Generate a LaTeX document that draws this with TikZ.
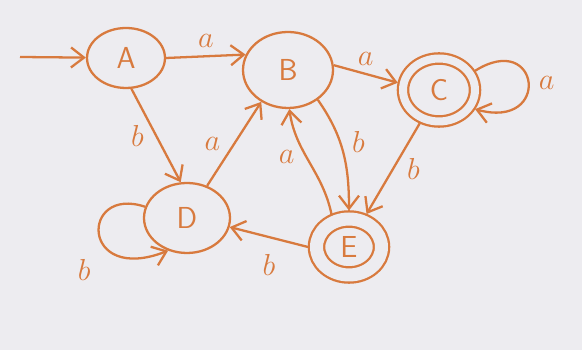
\documentclass[tikz,border=0pt]{standalone}
\usetikzlibrary{arrows.meta,shapes.geometric}
\definecolor{pen}{RGB}{216,122,62}
\definecolor{paper}{RGB}{237,236,240}
\tikzset{
  state/.style={draw=pen,ellipse,line width=1.3pt,text=pen,font=\LARGE\sffamily,inner sep=0pt},
  final/.style={state,double=paper},
  edge/.style={draw=pen,line width=1.3pt,-{Straight Barb[length=2.6mm,width=4mm]}},
  lbl/.style={text=pen,font=\LARGE}
}
\begin{document}
\begin{tikzpicture}[x=0.02cm,y=-0.02cm]
        \fill[paper] (0,0) rectangle (582,350);
        % states
        \node[state,minimum width=1.56cm,minimum height=1.2cm] (A) at (126,58) {A};
        \node[state,minimum width=1.8cm,minimum height=1.52cm] (B) at (288,70) {B};
        \node[final,double distance=0.16cm,minimum width=1.44cm,minimum height=1.26cm,outer sep=0.12cm] (C) at (439,90) {C};
        \node[state,minimum width=1.72cm,minimum height=1.4cm] (D) at (187,218) {D};
        \node[final,double distance=0.26cm,minimum width=1.3cm,minimum height=1.12cm,outer sep=0.17cm] (E) at (349,247) {E};
        \coordinate (start) at (20,57);
        % transitions
        \draw[edge] (start) -- (A);
        \draw[edge] (A.east) -- node[lbl,above=1pt] {$a$} (B.160);
        \draw[edge] (B.6) -- node[lbl,above=1pt] {$a$} (C.170);
        \draw[edge] (C.28) .. controls (540,30) and (552,130) .. node[lbl,right=2pt] {$a$} (C.-28);
        \draw[edge] (A.-80) -- node[lbl,left=3pt] {$b$} (D.100);
        \draw[edge] (D.58) -- node[lbl,left=4pt] {$a$} (B.-130);
        \draw[edge] (C.-120) -- node[lbl,right=4pt] {$b$} (E.62);
        \draw[edge] (B.-45) to[out=-55,in=90] node[lbl,right=3pt,pos=0.4] {$b$} (E.north);
        \draw[edge] (E.118) to[out=102,in=-82] node[lbl,left=3pt,pos=0.55] {$a$} (B.-88);
        \draw[edge] (E.west) -- node[lbl,below=6pt] {$b$} (D.-12);
        \draw[edge] (D.165) .. controls (80,185) and (80,285) .. node[lbl,below left=4pt,pos=0.62] {$b$} (D.-120);
    \end{tikzpicture}
\end{document}
